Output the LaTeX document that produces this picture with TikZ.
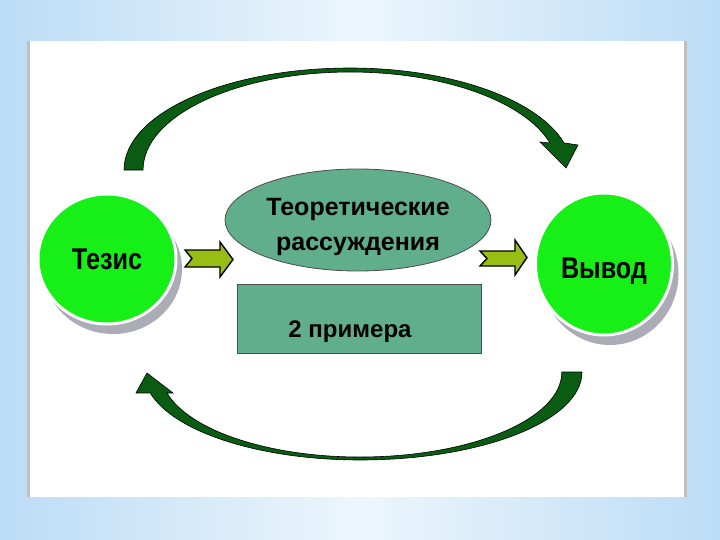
\documentclass[tikz,border=0pt]{standalone}
\usepackage{fontspec}
\setmainfont{Liberation Sans}
\newfontfamily\narrowfont{Liberation Sans}[FakeStretch=0.84]
\usetikzlibrary{shapes.geometric,shadows}

\definecolor{bgblue}{RGB}{188,220,246}
\definecolor{bglight}{RGB}{236,246,252}
\definecolor{limegreen}{RGB}{22,240,22}
\definecolor{seagreen}{RGB}{96,174,140}
\definecolor{darkarc}{RGB}{10,92,18}
\definecolor{olivearrow}{RGB}{152,190,20}
\definecolor{shadowgrey}{RGB}{172,172,182}

\begin{document}
\begin{tikzpicture}[x=1pt,y=-1pt,
    bubble/.style={ellipse, fill=limegreen, draw=white, line width=3pt, inner sep=0pt,
      font=\narrowfont\fontsize{30}{32}\selectfont\bfseries,
      drop shadow={shadow xshift=6pt, shadow yshift=-10pt, fill=shadowgrey, opacity=1}},
    reasonbox/.style={draw=black!70, line width=0.8pt, fill=seagreen, inner sep=0pt},
    curvearrow/.style={fill=darkarc, draw=black, line width=0.6pt},
    notcharrow/.style={fill=olivearrow, draw=black, line width=1.4pt, line join=miter}]
    \useasboundingbox (0,0) rectangle (720,540);

    % Background
    \shade[left color=bgblue, right color=bgblue, middle color=bglight] (0,0) rectangle (720,540);
    \fill[white] (28,41) rectangle (686,497);
    \draw[black!25, line width=3pt] (28,41) -- (28,497);
    \draw[black!25, line width=3pt] (685,41) -- (685,497);

    % Nodes
    \node[bubble, minimum width=138, minimum height=130, text height=20pt, text depth=0pt]
      (tezis) at (107,259) {Тезис};
    \node[bubble, minimum width=137, minimum height=142, text height=28pt, text depth=0pt]
      (vyvod) at (604,264) {Вывод};
    \node[reasonbox, ellipse, minimum width=266, minimum height=102, align=center,
      font=\fontsize{25}{35}\selectfont\bfseries, text height=61pt, text depth=0pt]
      (teor) at (358,220) {Теоретические\\рассуждения};
    \node[reasonbox, rectangle, minimum width=244, minimum height=69,
      font=\fontsize{24}{28}\selectfont\bfseries, text height=37pt, text depth=0pt]
      (primer) at (359,318.5) {2 примера\kern18pt};

    % Edges
    \filldraw[notcharrow] (185,250) -- (220,250) -- (220,242) -- (233,259.5) -- (220,277)
      -- (220,267) -- (185,267) -- (192,258.5) -- cycle;
    \filldraw[notcharrow] (480,251) -- (515,251) -- (515,240) -- (527,257.5) -- (515,275)
      -- (515,266) -- (480,266) -- (487,258.5) -- cycle;
    \filldraw[curvearrow] (124,170)
      arc[start angle=180, end angle=270, x radius=226, y radius=102]
      arc[start angle=270, end angle=344.6, x radius=222, y radius=102]
      -- (578,145) -- (566,168) -- (540,142) -- (550,143)
      arc[start angle=344, end angle=270, x radius=208, y radius=98]
      arc[start angle=270, end angle=180, x radius=207, y radius=98] -- cycle;
    \filldraw[curvearrow] (582,372)
      arc[start angle=0, end angle=90, x radius=222, y radius=88]
      arc[start angle=90, end angle=166.2, x radius=216, y radius=88]
      -- (136,393) -- (147,373) -- (173,393) -- (167,393)
      arc[start angle=165.7, end angle=90, x radius=199, y radius=85]
      arc[start angle=90, end angle=0, x radius=202, y radius=85] -- cycle;
\end{tikzpicture}
\end{document}
